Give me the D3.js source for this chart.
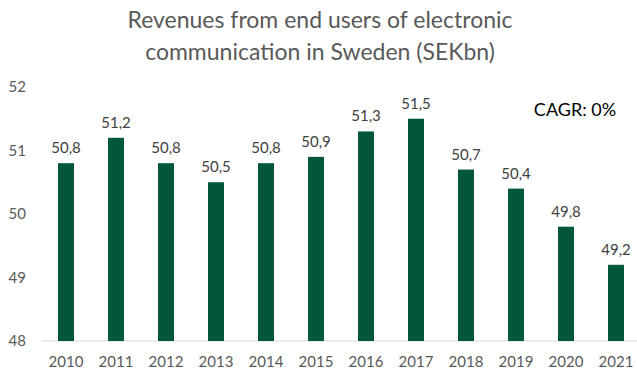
<!DOCTYPE html>
<html>
<head>
<meta charset="utf-8">
<script src="https://d3js.org/d3.v7.min.js"></script>
<style>
  body { margin: 0; background: #fff; font-family: "Lato", "Open Sans", sans-serif; }
  .axis path, .axis line { display: none; }
  .axis text { fill: #595959; font-size: 15px; font-family: "Lato", "Open Sans", sans-serif; }
</style>
</head>
<body>
<script>
const years = ["2010","2011","2012","2013","2014","2015","2016","2017","2018","2019","2020","2021"];
const revenues = [50.8, 51.2, 50.8, 50.5, 50.8, 50.9, 51.3, 51.5, 50.7, 50.4, 49.8, 49.2];
const yTicks = [48, 49, 50, 51, 52];

const W = 637, H = 374;
const svg = d3.select("body").append("svg").attr("width", W).attr("height", H);

const x = d3.scaleBand().domain(years).range([41, 641]).paddingInner(0.68).paddingOuter(0.34);
const y = d3.scaleLinear().domain([48, 52]).range([341, 87]);

// title
svg.append("text").attr("x", 320).attr("y", 28).attr("text-anchor", "middle")
  .attr("fill", "#595959").attr("font-size", 23).text("Revenues from end users of electronic");
svg.append("text").attr("x", 320).attr("y", 60).attr("text-anchor", "middle")
  .attr("fill", "#595959").attr("font-size", 23).text("communication in Sweden (SEKbn)");

// y axis
svg.append("g").attr("class", "axis").attr("transform", "translate(26,0)")
  .call(d3.axisLeft(y).tickValues(yTicks).tickSize(0).tickPadding(0).tickFormat(d3.format("d")));

// baseline
svg.append("line").attr("x1", 42).attr("x2", 637).attr("y1", y(48)).attr("y2", y(48))
  .attr("stroke", "#d9d9d9").attr("stroke-width", 1);

// bars
svg.append("g").selectAll("rect").data(years).enter().append("rect")
  .attr("x", d => x(d))
  .attr("width", x.bandwidth())
  .attr("y", (d, i) => y(revenues[i]))
  .attr("height", (d, i) => y(48) - y(revenues[i]))
  .attr("fill", "#00573c");

// value labels
svg.append("g").selectAll("text").data(years).enter().append("text")
  .attr("x", d => x(d) + x.bandwidth() / 2)
  .attr("y", (d, i) => y(revenues[i]) - 10)
  .attr("text-anchor", "middle")
  .attr("fill", "#404040").attr("font-size", 15)
  .text((d, i) => revenues[i].toFixed(1).replace(".", ","));

// x axis
svg.append("g").attr("class", "axis").attr("transform", "translate(0,356)")
  .call(d3.axisBottom(x).tickSize(0).tickPadding(0));

svg.append("text").attr("x", 575).attr("y", 116).attr("text-anchor", "middle")
  .attr("fill", "#000").attr("font-size", 18).text("CAGR: 0%");
</script>
</body>
</html>
